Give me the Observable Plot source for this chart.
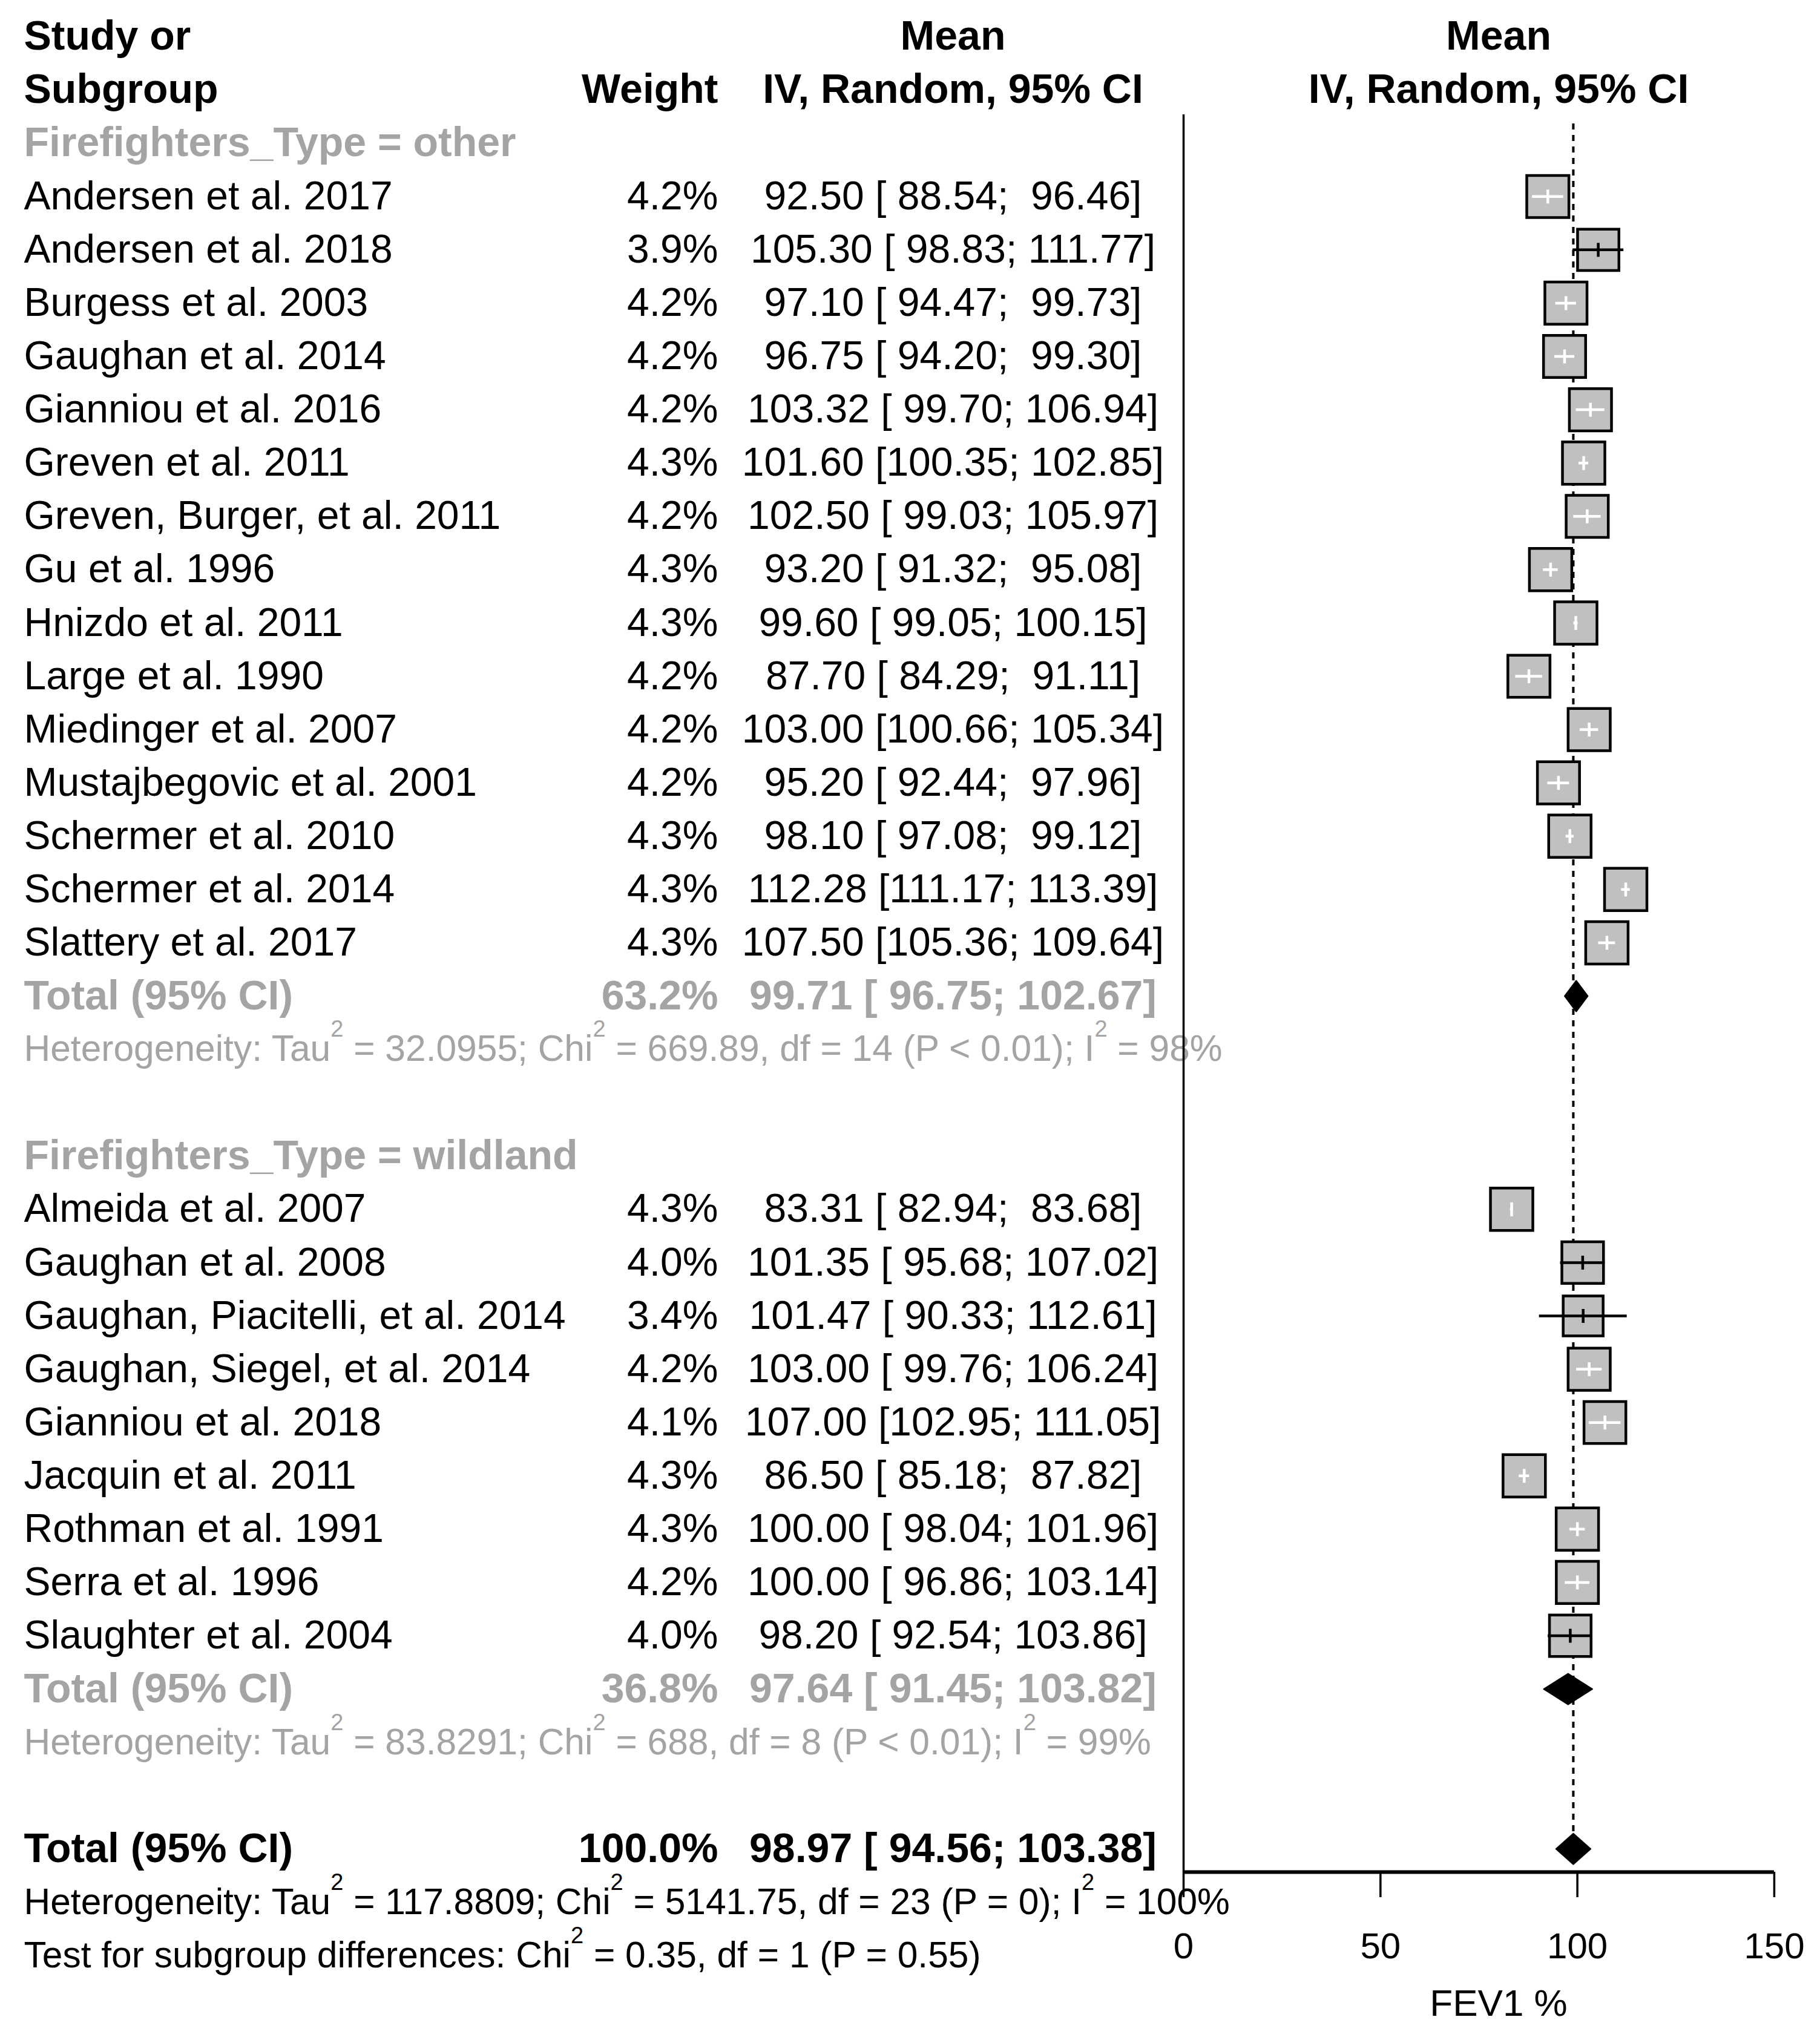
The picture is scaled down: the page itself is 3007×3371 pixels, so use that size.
<!DOCTYPE html>
<html><head><meta charset="utf-8">
<script src="https://cdn.jsdelivr.net/npm/d3@7"></script>
<script src="https://cdn.jsdelivr.net/npm/@observablehq/plot@0.6"></script>
<style>
html,body{margin:0;padding:0;background:#fff;}
#chart svg text{white-space:pre;}
</style></head><body><div id="chart"></div>
<script>
// ---------- DATA ----------
const groupLabels = ["Firefighters_Type = other", "Firefighters_Type = wildland"];

const otherStudies = ["Andersen et al. 2017","Andersen et al. 2018","Burgess et al. 2003","Gaughan et al. 2014","Gianniou et al. 2016","Greven et al. 2011","Greven, Burger, et al. 2011","Gu et al. 1996","Hnizdo et al. 2011","Large et al. 1990","Miedinger et al. 2007","Mustajbegovic et al. 2001","Schermer et al. 2010","Schermer et al. 2014","Slattery et al. 2017"];
const otherWeights = [4.2,3.9,4.2,4.2,4.2,4.3,4.2,4.3,4.3,4.2,4.2,4.2,4.3,4.3,4.3];
const otherMeans = [92.50,105.30,97.10,96.75,103.32,101.60,102.50,93.20,99.60,87.70,103.00,95.20,98.10,112.28,107.50];
const otherLower = [88.54,98.83,94.47,94.20,99.70,100.35,99.03,91.32,99.05,84.29,100.66,92.44,97.08,111.17,105.36];
const otherUpper = [96.46,111.77,99.73,99.30,106.94,102.85,105.97,95.08,100.15,91.11,105.34,97.96,99.12,113.39,109.64];

const wildStudies = ["Almeida et al. 2007","Gaughan et al. 2008","Gaughan, Piacitelli, et al. 2014","Gaughan, Siegel, et al. 2014","Gianniou et al. 2018","Jacquin et al. 2011","Rothman et al. 1991","Serra et al. 1996","Slaughter et al. 2004"];
const wildWeights = [4.3,4.0,3.4,4.2,4.1,4.3,4.3,4.2,4.0];
const wildMeans = [83.31,101.35,101.47,103.00,107.00,86.50,100.00,100.00,98.20];
const wildLower = [82.94,95.68,90.33,99.76,102.95,85.18,98.04,96.86,92.54];
const wildUpper = [83.68,107.02,112.61,106.24,111.05,87.82,101.96,103.14,103.86];

const subtotalWeights = [63.2, 36.8];
const subtotalMeans = [99.71, 97.64];
const subtotalLower = [96.75, 91.45];
const subtotalUpper = [102.67, 103.82];
const subgroupHet = [
  "Heterogeneity: Tau^2 = 32.0955; Chi^2 = 669.89, df = 14 (P < 0.01); I^2 = 98%",
  "Heterogeneity: Tau^2 = 83.8291; Chi^2 = 688, df = 8 (P < 0.01); I^2 = 99%"
];

const overallWeight = [100.0];
const overallMean = [98.97];
const overallLower = [94.56];
const overallUpper = [103.38];
const overallHet = "Heterogeneity: Tau^2 = 117.8809; Chi^2 = 5141.75, df = 23 (P = 0); I^2 = 100%";
const subgroupTest = "Test for subgroup differences: Chi^2 = 0.35, df = 1 (P = 0.55)";

const totalLabel = "Total (95% CI)";
const headerLeft = ["Study or", "Subgroup"];
const headerWeight = "Weight";
const headerMean = ["Mean", "IV, Random, 95% CI"];
const xTicks = [0, 50, 100, 150];
const xDomain = [0, 160];
const xLabel = "FEV1 %";

// ---------- LAYOUT ----------
const W = 3007, H = 3371;
const ML = 1955, MR = 11, MT = 189, AXIS_Y = 3093, MB = H - AXIS_Y;
const ROW0_Y = 60, ROW36_Y = 3231;
const COL_STUDY = 39, COL_WEIGHT = 1186, COL_CI = 1574;
const FS = 66, FS_BOLD = 68, FS_HET = 60.5, FS_AXIS = 60;
const GRAY = "#a4a4a4";
const FONT = "'Liberation Sans', Arial, Helvetica, sans-serif";
const SQ_MAX = 35; // half side (px) of the largest square
const axisRow = (AXIS_Y - ROW0_Y) / ((ROW36_Y - ROW0_Y) / 36);
const pxPerUnit = (W - ML - MR) / (xDomain[1] - xDomain[0]);
const maxW = Math.max(...otherWeights, ...wildWeights);
const halfSide = w => SQ_MAX * Math.pow(w / maxW, 0.25);

// ---------- ROWS ----------
const groups = [
  {label: groupLabels[0], studies: otherStudies, weights: otherWeights, means: otherMeans, lower: otherLower, upper: otherUpper, gi: 0},
  {label: groupLabels[1], studies: wildStudies, weights: wildWeights, means: wildMeans, lower: wildLower, upper: wildUpper, gi: 1}
];
const textRows = [], studyRows = [], summaryRows = [];
let r = 2;
for (const g of groups) {
  textRows.push({row: r++, label: g.label, kind: "group"});
  g.studies.forEach((name, i) => {
    const d = {row: r++, label: name, weight: g.weights[i], mean: g.means[i], lower: g.lower[i], upper: g.upper[i], kind: "study"};
    d.fits = (d.upper - d.lower) * pxPerUnit <= 2 * halfSide(d.weight);
    studyRows.push(d); textRows.push(d);
  });
  const t = {row: r++, label: totalLabel, weight: subtotalWeights[g.gi], mean: subtotalMeans[g.gi], lower: subtotalLower[g.gi], upper: subtotalUpper[g.gi], kind: "subtotal"};
  summaryRows.push(t); textRows.push(t);
  textRows.push({row: r++, label: subgroupHet[g.gi], kind: "het"});
  r++;
}
const overall = {row: r++, label: totalLabel, weight: overallWeight[0], mean: overallMean[0], lower: overallLower[0], upper: overallUpper[0], kind: "total"};
summaryRows.push(overall); textRows.push(overall);
textRows.push({row: r++, label: overallHet, kind: "hetAll"});
textRows.push({row: r++, label: subgroupTest, kind: "hetAll"});

const fmtW = d => d.weight.toFixed(1) + "%";
const fmtCI = d => `${d.mean.toFixed(2)} [${d.lower.toFixed(2).padStart(6)}; ${d.upper.toFixed(2).padStart(6)}]`;

const DH = 0.29;
const diamondPts = summaryRows.flatMap((d, i) => [
  {g: i, x: d.lower, y: d.row},
  {g: i, x: d.mean, y: d.row - DH},
  {g: i, x: d.upper, y: d.row},
  {g: i, x: d.mean, y: d.row + DH}
]);

const squareSymbol = {draw(ctx, size) { const h = Math.sqrt(size / Math.PI); ctx.moveTo(-h, -h); ctx.lineTo(h, -h); ctx.lineTo(h, h); ctx.lineTo(-h, h); ctx.closePath(); }};
const vlineSymbol = {draw(ctx, size) { const h = Math.sqrt(size / Math.PI); ctx.moveTo(0, -h); ctx.lineTo(0, h); }};

const byKind = (...k) => textRows.filter(d => k.includes(d.kind));
const hdrLeft = headerLeft.map((t, i) => ({row: i, text: t}));
const hdrMean = headerMean.map((t, i) => ({row: i, text: t}));
const txt = (data, opts) => Plot.text(data, {y: "row", frameAnchor: "left", lineAnchor: "middle", fontSize: FS, ...opts});
const bold = {fontWeight: "bold", fontSize: FS_BOLD};

const chart = Plot.plot({
  width: W, height: H,
  marginLeft: ML, marginRight: MR, marginTop: MT, marginBottom: MB,
  style: {fontFamily: FONT, fontSize: FS + "px", background: "#fff", color: "#000"},
  x: {domain: xDomain, axis: null},
  y: {domain: [0, 36], range: [ROW0_Y, ROW36_Y], axis: null},
  r: {type: "pow", exponent: 0.25, domain: [0, maxW], range: [0, SQ_MAX]},
  marks: [
    // headers
    txt(hdrLeft, {text: "text", dx: COL_STUDY - ML, textAnchor: "start", ...bold}),
    txt([{row: 1, text: headerWeight}], {text: "text", dx: COL_WEIGHT - ML, textAnchor: "end", ...bold}),
    txt(hdrMean, {text: "text", dx: COL_CI - ML, textAnchor: "middle", ...bold}),
    Plot.text(hdrMean, {y: "row", text: "text", frameAnchor: "middle", textAnchor: "middle", lineAnchor: "middle", ...bold}),
    // group headers
    txt(byKind("group"), {text: "label", dx: COL_STUDY - ML, textAnchor: "start", fill: GRAY, ...bold}),
    // study rows
    txt(byKind("study"), {text: "label", dx: COL_STUDY - ML, textAnchor: "start"}),
    txt(byKind("study"), {text: fmtW, dx: COL_WEIGHT - ML, textAnchor: "end"}),
    txt(byKind("study"), {text: fmtCI, dx: COL_CI - ML, textAnchor: "middle"}),
    // subtotals
    txt(byKind("subtotal"), {text: "label", dx: COL_STUDY - ML, textAnchor: "start", fill: GRAY, ...bold}),
    txt(byKind("subtotal"), {text: fmtW, dx: COL_WEIGHT - ML, textAnchor: "end", fill: GRAY, ...bold}),
    txt(byKind("subtotal"), {text: fmtCI, dx: COL_CI - ML, textAnchor: "middle", fill: GRAY, ...bold}),
    txt(byKind("het"), {text: "label", dx: COL_STUDY - ML, textAnchor: "start", fontSize: FS_HET, fill: GRAY}),
    // overall
    txt(byKind("total"), {text: "label", dx: COL_STUDY - ML, textAnchor: "start", ...bold}),
    txt(byKind("total"), {text: fmtW, dx: COL_WEIGHT - ML, textAnchor: "end", ...bold}),
    txt(byKind("total"), {text: fmtCI, dx: COL_CI - ML, textAnchor: "middle", ...bold}),
    txt(byKind("hetAll"), {text: "label", dx: COL_STUDY - ML, textAnchor: "start", fontSize: FS_HET}),
    // forest: reference line at overall estimate
    Plot.ruleX(overallMean, {stroke: "black", strokeWidth: 4, strokeDasharray: "10,9", insetTop: 15, insetBottom: 18}),
    // left axis line at 0
    Plot.ruleX([xTicks[0]], {stroke: "black", strokeWidth: 3.5}),
    // squares
    Plot.dot(studyRows, {x: "mean", y: "row", r: "weight", symbol: squareSymbol, fill: "#c0c0c0", stroke: "black", strokeWidth: 4.5}),
    // CI lines
    Plot.ruleY(studyRows.filter(d => d.fits), {y: "row", x1: "lower", x2: "upper", stroke: "white", strokeWidth: 4.5}),
    Plot.ruleY(studyRows.filter(d => !d.fits), {y: "row", x1: "lower", x2: "upper", stroke: "black", strokeWidth: 4.5}),
    Plot.dot(studyRows.filter(d => d.fits), {x: "mean", y: "row", r: 11.5, symbol: vlineSymbol, fill: "none", stroke: "white", strokeWidth: 4.5}),
    Plot.dot(studyRows.filter(d => !d.fits), {x: "mean", y: "row", r: 11.5, symbol: vlineSymbol, fill: "none", stroke: "black", strokeWidth: 4.5}),
    // diamonds
    Plot.line(diamondPts, {x: "x", y: "y", z: "g", curve: "linear-closed", fill: "black", stroke: "black", strokeWidth: 2}),
    // bottom axis
    Plot.ruleY([axisRow], {x1: xTicks[0], x2: xTicks[xTicks.length - 1], stroke: "black", strokeWidth: 6}),
    Plot.axisX({ticks: xTicks, tickSize: 42, tickPadding: 58, fontSize: FS_AXIS, strokeWidth: 3.5, stroke: "black", fill: "black", label: null, tickFormat: d => String(d)}),
    Plot.text([xLabel], {frameAnchor: "bottom", dy: 3311 - AXIS_Y, fontSize: 62, lineAnchor: "middle", fill: "black"})
  ]
});
document.getElementById("chart").appendChild(chart);

// superscript "^2" -> raised small 2
const SUP_FS = 38, RAISE = 40;
chart.querySelectorAll("text").forEach(t => {
  const s = t.textContent;
  if (!s.includes("^2")) return;
  const parts = s.split("^2");
  t.textContent = "";
  const NS = "http://www.w3.org/2000/svg";
  parts.forEach((p, i) => {
    const a = document.createElementNS(NS, "tspan");
    a.textContent = p;
    if (i > 0) a.setAttribute("dy", RAISE);
    t.appendChild(a);
    if (i < parts.length - 1) {
      const sup = document.createElementNS(NS, "tspan");
      sup.textContent = "2";
      sup.setAttribute("font-size", SUP_FS);
      sup.setAttribute("dy", -RAISE);
      t.appendChild(sup);
    }
  });
});
</script></body></html>
